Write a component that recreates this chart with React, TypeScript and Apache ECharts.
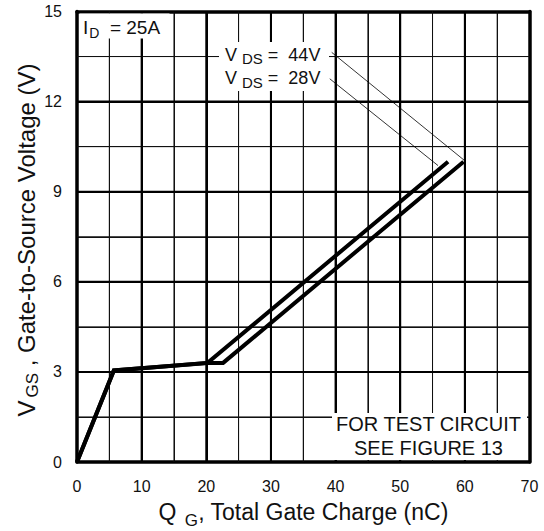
import React, { useEffect, useRef } from "react";
import * as echarts from "echarts";

// ---- axes ----
const X_MIN = 0;
const X_MAX = 70;
const X_STEP = 10;
const Y_MIN = 0;
const Y_MAX = 15;
const Y_STEP = 3;
// grid line positions (major / minor)
const X_MAJOR = [10, 20, 30, 40, 50, 60];
const X_MINOR = [5, 15, 25, 35, 45, 55, 65];
const Y_MAJOR = [3, 6, 9, 12];
const Y_MINOR = [1.5, 4.5, 7.5, 10.5, 13.5];

// ---- data ----
// VDS = 28V curve
const Q_28 = [0, 5.7, 20.2, 57.4];
const V_28 = [0, 3.05, 3.3, 10.0];
// VDS = 44V curve
const Q_44 = [0, 5.7, 20.2, 22.6, 59.8];
const V_44 = [0, 3.05, 3.3, 3.3, 10.0];

// leader lines from labels to curve ends
const LEAD_44_Q = [39.4, 60.0];
const LEAD_44_V = [13.64, 10.03];
const LEAD_28_Q = [39.1, 55.85];
const LEAD_28_V = [12.76, 9.87];

// ---- texts ----
const LABEL_ID = "I{s|D}  = 25A";
const LABEL_VDS = "V {s|DS} =  44V\nV {s|DS} =  28V";
const LABEL_TEST = "FOR TEST CIRCUIT\nSEE FIGURE 13";
const X_NAME = "Q {s|G}, Total Gate Charge (nC)";
const Y_NAME = "V{s|GS} , Gate-to-Source Voltage (V)";

const FONT = "'Liberation Sans', Arial, Helvetica, sans-serif";

const zip = (a: number[], b: number[]) => a.map((v, i) => [v, b[i]]);

export default function App() {
  const ref = useRef<HTMLDivElement>(null);
  useEffect(() => {
    if (!ref.current) return;
    const chart = echarts.init(ref.current, undefined, { renderer: "svg" });
    const curve = (name: string, data: number[][]) => ({
      name,
      type: "line",
      data,
      showSymbol: false,
      symbol: "none",
      lineStyle: { color: "#000", width: 4, join: "miter", cap: "butt" },
      silent: true,
      z: 10,
    });
    const rule = (data: number[][], width: number, color: string, z: number) => ({
      type: "line",
      data,
      showSymbol: false,
      symbol: "none",
      lineStyle: { color, width, cap: "butt" },
      silent: true,
      z,
    });
    const border = { show: true, onZero: false, lineStyle: { color: "#000", width: 3.5 } };
    const baseX = {
      type: "value",
      min: X_MIN,
      max: X_MAX,
      interval: X_STEP,
      axisTick: { show: false },
    };
    const baseY = {
      type: "value",
      min: Y_MIN,
      max: Y_MAX,
      interval: Y_STEP,
      axisTick: { show: false },
    };
    const split = {
      splitLine: { show: true, lineStyle: { color: "#000", width: 2 } },
      minorTick: { show: false, splitNumber: 2 },
      minorSplitLine: { show: true, lineStyle: { color: "#111", width: 1 } },
    };
    const labels: any[] = [
      { type: "rect", z: 50, shape: { x: 79.5, y: 13.5, width: 90, height: 25 }, style: { fill: "#fff" } },
      { type: "rect", z: 50, shape: { x: 219, y: 42, width: 110, height: 49 }, style: { fill: "#fff" } },
      { type: "rect", z: 50, shape: { x: 332, y: 413, width: 195, height: 47 }, style: { fill: "#fff" } },
      {
        type: "text",
        z: 51,
        x: 83,
        y: 27,
        style: {
          text: LABEL_ID,
          fill: "#111",
          fontSize: 19,
          fontFamily: FONT,
          align: "left",
          verticalAlign: "middle",
          lineHeight: 22,
          rich: { s: { fill: "#111", fontSize: 14, fontFamily: FONT, lineHeight: 22, padding: [11, 0, 0, 1] } },
        },
      },
      {
        type: "text",
        z: 51,
        x: 225,
        y: 66.5,
        style: {
          text: LABEL_VDS,
          fill: "#111",
          fontSize: 18,
          fontFamily: FONT,
          align: "left",
          verticalAlign: "middle",
          lineHeight: 23.5,
          rich: { s: { fill: "#111", fontSize: 15, fontFamily: FONT, lineHeight: 23.5, padding: [8, 0, 0, 0] } },
        },
      },
      {
        type: "text",
        z: 51,
        x: 428.5,
        y: 436,
        style: {
          text: LABEL_TEST,
          fill: "#111",
          fontSize: 20,
          fontFamily: FONT,
          align: "center",
          verticalAlign: "middle",
          lineHeight: 24.5,
        },
      },
      {
        type: "text",
        z: 51,
        x: 303.5,
        y: 511.5,
        style: {
          text: X_NAME,
          fill: "#111",
          fontSize: 23,
          fontFamily: FONT,
          align: "center",
          verticalAlign: "middle",
          lineHeight: 26,
          rich: { s: { fill: "#111", fontSize: 17, fontFamily: FONT, lineHeight: 26, padding: [18, 0, 0, 2] } },
        },
      },
      {
        type: "text",
        z: 51,
        x: 26,
        y: 240,
        rotation: Math.PI / 2,
        style: {
          text: Y_NAME,
          fill: "#111",
          fontSize: 24,
          fontFamily: FONT,
          align: "center",
          verticalAlign: "middle",
          lineHeight: 26,
          rich: { s: { fill: "#111", fontSize: 17, fontFamily: FONT, lineHeight: 26, padding: [13, 0, 0, 3] } },
        },
      },
    ];
    chart.setOption({
      animation: false,
      grid: { left: 77, top: 11.5, right: 14.5, bottom: 69, containLabel: false, outerBoundsMode: "none" },
      xAxis: [
        {
          ...baseX,
          ...split,
          position: "bottom",
          axisLine: border,
          axisLabel: { fontSize: 16, color: "#111", margin: 16, fontFamily: FONT },
        },
        { ...baseX, position: "top", axisLine: border, axisLabel: { show: false }, splitLine: { show: false } },
      ],
      yAxis: [
        {
          ...baseY,
          ...split,
          position: "left",
          axisLine: border,
          axisLabel: { fontSize: 16, color: "#111", margin: 15, fontFamily: FONT },
        },
        { ...baseY, position: "right", axisLine: border, axisLabel: { show: false }, splitLine: { show: false } },
      ],
      series: [
        curve("VDS = 28V", zip(Q_28, V_28)),
        curve("VDS = 44V", zip(Q_44, V_44)),
        rule(zip(LEAD_44_Q, LEAD_44_V), 0.8, "#000", 9),
        rule(zip(LEAD_28_Q, LEAD_28_V), 0.8, "#000", 9),
      ],
      graphic: labels,
    });
    // grid rules placed through the axes' own scales
    const finder = { xAxisIndex: 0, yAxisIndex: 0 };
    const px = (x: number, y: number) => chart.convertToPixel(finder as any, [x, y]) as number[];
    const gl = (a: number[], b: number[], w: number, c: string, z: number) => ({
      type: "line",
      z,
      silent: true,
      shape: { x1: a[0], y1: a[1], x2: b[0], y2: b[1] },
      style: { stroke: c, lineWidth: w },
    });
    const lines: any[] = [];
    try {
      X_MINOR.forEach((v) => lines.push(gl(px(v, Y_MIN), px(v, Y_MAX), 1, "#111", 3)));
      Y_MINOR.forEach((v) => lines.push(gl(px(X_MIN, v), px(X_MAX, v), 1, "#111", 3)));
      X_MAJOR.forEach((v) => lines.push(gl(px(v, Y_MIN), px(v, Y_MAX), 2, "#000", 4)));
      Y_MAJOR.forEach((v) => lines.push(gl(px(X_MIN, v), px(X_MAX, v), 2, "#000", 4)));
    } catch (e) {
      // keep labels only
    }
    if (lines.length) {
      chart.setOption({ graphic: [...lines, ...labels] }, { replaceMerge: ["graphic"] } as any);
    }
    return () => chart.dispose();
  }, []);
  return <div ref={ref} style={{ position: "absolute", left: 0, top: 0, width: 544, height: 531, background: "#fff" }} />;
}
